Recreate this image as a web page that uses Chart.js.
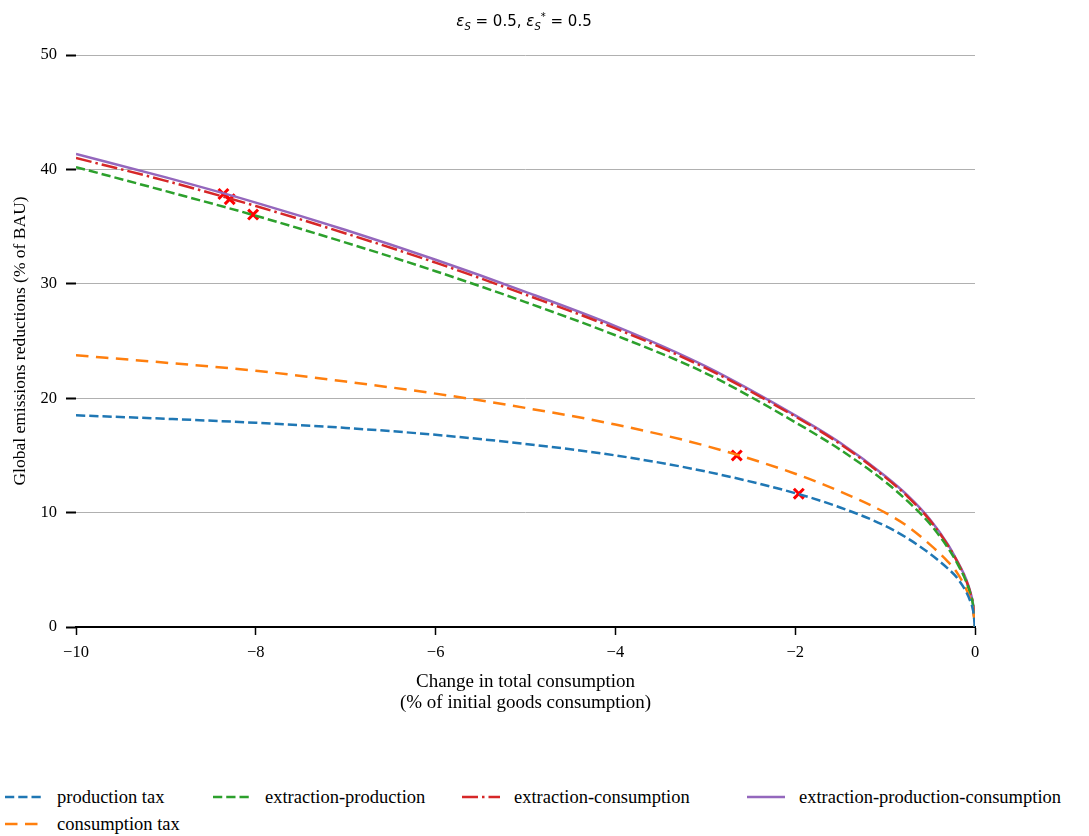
<!DOCTYPE html>
<html>
<head>
<meta charset="utf-8">
<script src="https://cdn.jsdelivr.net/npm/chart.js@4.4.0/dist/chart.umd.min.js"></script>
<style>
    body { margin: 0; background: #fff; }
    #wrap { position: relative; width: 1089px; height: 836px; }
    #chart { position: absolute; left: 0; top: 0; }
    #title {
        position: absolute; top: 11px; left: 0; width: 1048px; text-align: center;
        font-family: 'DejaVu Sans', sans-serif; font-size: 15px; color: #000;
    }
    #title sub, #title sup { font-size: 10px; }
    .legend-item {
        position: absolute; height: 20px; display: flex; align-items: center;
        font-family: 'Liberation Serif', serif; font-size: 18.5px; color: #000; white-space: nowrap;
    }
    .legend-item svg { margin-right: 14px; }
</style>
</head>
<body>
<div id="wrap">
    <canvas id="chart" width="1089" height="720"></canvas>
    <div id="title"><i>ε</i><sub><i>S</i></sub> = 0.5, <i>ε</i><sub><i>S</i></sub><sup>*</sup> = 0.5</div>
    <div id="legend"></div>
</div>
<script>
// x values (% change in total consumption)
const xValues = [-10, -9, -8, -7, -6, -5, -4, -3, -2, -1.5, -1, -0.75, -0.5, -0.3, -0.2, -0.1, -0.05, -0.02, 0];

// emissions reductions (% of BAU) for each policy
const productionTax = [18.5, 18.2, 17.85, 17.4, 16.8, 16.0, 15.0, 13.6, 11.7, 10.45, 8.85, 7.75, 6.4, 5.1, 4.3, 3.1, 2.2, 1.4, 0];
const consumptionTax = [23.75, 23.1, 22.4, 21.45, 20.4, 19.15, 17.7, 15.85, 13.4, 11.85, 10.0, 8.8, 7.2, 5.7, 4.75, 3.35, 2.4, 1.5, 0];
const extractionProduction = [40.2, 38.1, 35.95, 33.6, 31.1, 28.4, 25.5, 22.2, 17.9, 15.5, 12.7, 11.0, 9.0, 6.9, 5.6, 4.0, 2.85, 1.8, 0];
const extractionConsumption = [41.0, 39.0, 36.8, 34.4, 31.85, 29.05, 26.1, 22.65, 18.4, 16.0, 13.1, 11.4, 9.3, 7.1, 5.75, 4.1, 2.95, 1.85, 0];
const extractionProductionConsumption = [41.35, 39.3, 37.1, 34.7, 32.1, 29.3, 26.3, 22.8, 18.5, 16.1, 13.2, 11.5, 9.4, 7.2, 5.8, 4.2, 3.0, 1.9, 0];

// optimum markers
const markerX = [-8.36, -8.29, -8.03, -2.65, -1.96];
const markerY = [37.85, 37.4, 36.05, 15.0, 11.65];

// y ticks
const yTicks = [0, 10, 20, 30, 40, 50];

const series = [
    { label: 'production tax', values: productionTax, color: '#1f77b4', dash: [9.25, 4] },
    { label: 'consumption tax', values: consumptionTax, color: '#ff7f0e', dash: [12.5, 7.5] },
    { label: 'extraction-production', values: extractionProduction, color: '#2ca02c', dash: [9.25, 4] },
    { label: 'extraction-consumption', values: extractionConsumption, color: '#d62728', dash: [16, 4, 2.5, 4] },
    { label: 'extraction-production-consumption', values: extractionProductionConsumption, color: '#9467bd', dash: [] }
];

const serif = 'Liberation Serif';

function toPoints(values) {
    return xValues.map((x, i) => ({ x: x, y: values[i] }));
}

function minus(v) {
    return v < 0 ? '\u2212' + Math.abs(v) : String(v);
}

const datasets = series.map(s => ({
    type: 'line',
    label: s.label,
    data: toPoints(s.values),
    borderColor: s.color,
    borderWidth: 2.5,
    borderDash: s.dash,
    pointRadius: 0,
    cubicInterpolationMode: 'monotone',
    fill: false
}));

datasets.push({
    type: 'scatter',
    label: 'optimum',
    data: markerX.map((x, i) => ({ x: x, y: markerY[i] })),
    pointStyle: 'crossRot',
    pointRadius: 7,
    pointBorderWidth: 3,
    borderColor: '#ff0000',
    backgroundColor: '#ff0000'
});

new Chart(document.getElementById('chart'), {
    data: { datasets: datasets },
    options: {
        responsive: false,
        animation: false,
        layout: { padding: { top: 55, right: 114, left: 0, bottom: 0 } },
        plugins: {
            legend: { display: false },
            tooltip: { enabled: false }
        },
        scales: {
            x: {
                type: 'linear',
                min: -10,
                max: 0,
                ticks: {
                    stepSize: 2,
                    padding: 8,
                    color: '#000',
                    font: { family: serif, size: 16.5 },
                    callback: v => minus(v)
                },
                grid: {
                    drawOnChartArea: false,
                    drawTicks: true,
                    tickLength: 8,
                    tickColor: '#000',
                    tickWidth: 1.5
                },
                border: { display: true, color: '#000', width: 2 },
                title: {
                    display: true,
                    text: ['Change in total consumption', '(% of initial goods consumption)'],
                    color: '#000',
                    font: { family: serif, size: 19, lineHeight: 1.08 },
                    padding: { top: 0, bottom: 7 }
                },
                afterFit: scale => { scale.height = 93; }
            },
            y: {
                type: 'linear',
                min: 0,
                max: 50,
                afterBuildTicks: scale => { scale.ticks = yTicks.map(v => ({ value: v })); },
                ticks: {
                    padding: 9,
                    color: '#000',
                    font: { family: serif, size: 16.5 }
                },
                grid: {
                    color: ctx => ctx.tick && ctx.tick.value === 0 ? '#000' : '#b0b0b0',
                    lineWidth: 1,
                    tickLength: 10,
                    tickColor: '#000',
                    tickWidth: 2
                },
                border: { display: false },
                title: {
                    display: true,
                    text: 'Global emissions reductions (% of BAU)',
                    color: '#000',
                    font: { family: serif, size: 17.5, lineHeight: 1.2 },
                    padding: { top: 10, bottom: 0 }
                },
                afterFit: scale => { scale.width = 76; }
            }
        }
    }
});

// legend laid out in 4 columns, filled column by column
const legendCols = [5, 213, 462, 747];
const legendRows = [787, 814];
const legendSlots = [[0, 0], [0, 1], [1, 0], [2, 0], [3, 0]];
const legend = document.getElementById('legend');
series.forEach((s, i) => {
    const item = document.createElement('div');
    item.className = 'legend-item';
    item.style.left = legendCols[legendSlots[i][0]] + 'px';
    item.style.top = legendRows[legendSlots[i][1]] + 'px';
    item.innerHTML = `
        <svg width="38" height="6"><line x1="0" y1="3" x2="38" y2="3" stroke="${s.color}"
            stroke-width="2.5" stroke-dasharray="${s.dash.join(' ')}"/></svg>
        <span>${s.label}</span>`;
    legend.appendChild(item);
});
</script>
</body>
</html>
